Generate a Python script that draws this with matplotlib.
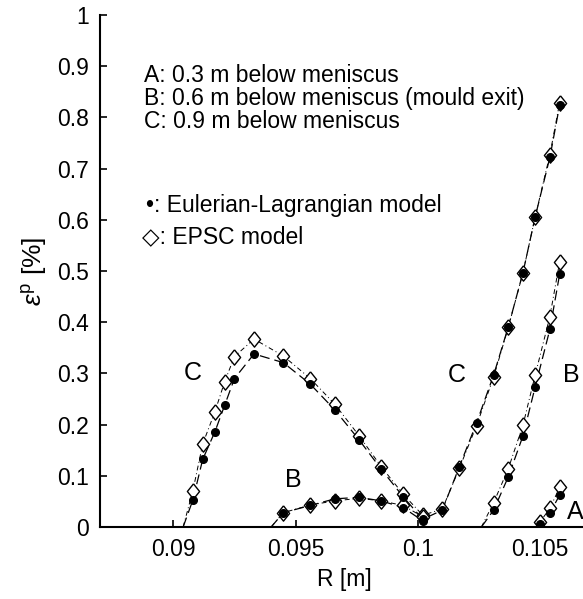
import numpy as np
import matplotlib
matplotlib.use("Agg")
import matplotlib.pyplot as plt

plt.rcParams["font.family"] = ["Liberation Sans", "DejaVu Sans"]
plt.rcParams["mathtext.fontset"] = "custom"
plt.rcParams["mathtext.rm"] = "Liberation Sans"
plt.rcParams["mathtext.it"] = "Liberation Sans:italic"

# radial positions of the sampled points [m]
c_r = [0.0908, 0.0912, 0.0917, 0.0921, 0.0925, 0.0933, 0.0945, 0.0956, 0.0966,
       0.0976, 0.0985, 0.0994, 0.1002, 0.1010, 0.1017, 0.1024, 0.1031, 0.1037,
       0.1043, 0.1048, 0.1054, 0.1058]
c_el = [0.053, 0.132, 0.186, 0.238, 0.290, 0.338, 0.321, 0.279, 0.229,
        0.170, 0.113, 0.059, 0.015, 0.033, 0.118, 0.203, 0.297, 0.391,
        0.497, 0.606, 0.722, 0.824]
c_epsc = [0.071, 0.162, 0.225, 0.284, 0.333, 0.367, 0.334, 0.290, 0.240,
          0.178, 0.118, 0.064, 0.023, 0.035, 0.115, 0.198, 0.293, 0.390,
          0.497, 0.606, 0.727, 0.829]
c_start = 0.0904

b1_r = [0.0945, 0.0956, 0.0966, 0.0976, 0.0985, 0.0994, 0.1002]
b1_el = [0.028, 0.042, 0.055, 0.058, 0.051, 0.038, 0.012]
b1_epsc = [0.028, 0.043, 0.051, 0.056, 0.051, 0.042, 0.020]
b1_start = 0.0940

b2_r = [0.1031, 0.1037, 0.1043, 0.1048, 0.1054, 0.1058]
b2_el = [0.033, 0.098, 0.178, 0.274, 0.386, 0.494]
b2_epsc = [0.0475, 0.114, 0.199, 0.297, 0.411, 0.518]
b2_start = 0.1026

a_r = [0.1050, 0.1054, 0.1058]
a_el = [0.006, 0.027, 0.0625]
a_epsc = [0.010, 0.0365, 0.0775]
a_start = 0.1049

series = [
    (c_start, c_r, c_el, c_epsc),
    (b1_start, b1_r, b1_el, b1_epsc),
    (b2_start, b2_r, b2_el, b2_epsc),
    (a_start, a_r, a_el, a_epsc),
]

diamond = [(0, 1), (0.8, 0), (0, -1), (-0.8, 0), (0, 1)]

fig = plt.figure(figsize=(5.83, 5.99), dpi=100)
ax = fig.add_axes([100 / 583, 72 / 599, 489 / 583, 512 / 599])

for start, r, el, epsc in series:
    ax.plot([start] + r, [0] + el, color="black", lw=0.9,
            linestyle=(0, (8, 4)), zorder=2)
    ax.plot([start] + r, [0] + epsc, color="black", lw=0.7,
            linestyle=(0, (5, 3, 1, 3)), zorder=2)
    ax.plot(r, epsc, linestyle="none", marker=diamond, markersize=11,
            markerfacecolor="white", markeredgecolor="black",
            markeredgewidth=1.0, zorder=3)
    ax.plot(r, el, linestyle="none", marker="o", markersize=5.5,
            color="black", zorder=4)

# curve labels
for txt, x, y in [("C", 0.0908, 0.30), ("B", 0.0949, 0.092),
                  ("C", 0.1016, 0.297), ("B", 0.10626, 0.297),
                  ("A", 0.10645, 0.03)]:
    ax.text(x, y, txt, fontsize=18, ha="center", va="center", zorder=5)

ax.text(0.0888, 0.882, "A: 0.3 m below meniscus", fontsize=16.5, va="center")
ax.text(0.0888, 0.837, "B: 0.6 m below meniscus (mould exit)", fontsize=16.5,
        va="center")
ax.text(0.0888, 0.792, "C: 0.9 m below meniscus", fontsize=16.5, va="center")
ax.text(0.0889, 0.627, "\u2022: Eulerian-Lagrangian model", fontsize=16.5,
        va="center")
ax.text(0.0887, 0.568, "\u25c7: EPSC model", fontsize=16.5, va="center")

ax.set_xlim(0.087, 0.107)
ax.set_ylim(0, 1)
ax.set_xticks([0.09, 0.095, 0.1, 0.105])
ax.set_xticklabels(["0.09", "0.095", "0.1", "0.105"])
ax.set_yticks(np.round(np.arange(0, 1.01, 0.1), 1))
ax.set_yticklabels(["0", "0.1", "0.2", "0.3", "0.4", "0.5", "0.6", "0.7",
                    "0.8", "0.9", "1"])
ax.tick_params(direction="in", length=5, width=1.2, labelsize=16.5, pad=8)
ax.spines["top"].set_visible(False)
ax.spines["right"].set_visible(False)
ax.spines["left"].set_linewidth(1.5)
ax.spines["bottom"].set_linewidth(1.5)
ax.set_xlabel("R [m]", fontsize=16.5, labelpad=5)
ax.set_ylabel(r"$\varepsilon^{\rm p}$ [%]", fontsize=19, labelpad=6)

fig.savefig("out.png", dpi=100)
